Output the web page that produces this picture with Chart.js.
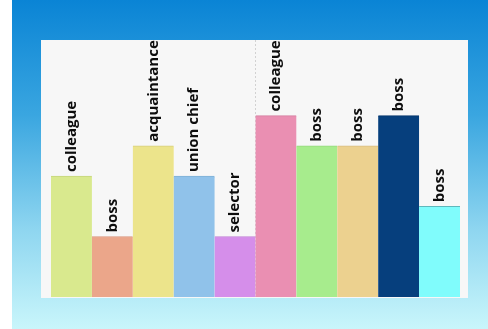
<!DOCTYPE html>
<html>
<head>
<meta charset="utf-8">
<script src="https://cdn.jsdelivr.net/npm/chart.js@4.4.1/dist/chart.umd.min.js"></script>
<style>
  html, body { margin: 0; padding: 0; background: #fff; }
  #bg {
    position: absolute; left: 12px; top: 0; width: 476px; height: 329px;
    background: linear-gradient(to bottom, #0a84d5 0%, #3aa6e0 35%, #8fd6f0 70%, #c9f6fb 100%);
  }
  #panel {
    position: absolute; left: 41px; top: 40px; width: 427px; height: 258px;
    background: #f7f7f7;
  }
</style>
</head>
<body>
<div id="bg"></div>
<div id="panel"><canvas id="barChart" width="427" height="258"></canvas></div>
<script>
const labels = ['colleague', 'boss', 'acquaintance', 'union chief', 'selector',
  'colleague', 'boss', 'boss', 'boss', 'boss'];
const values = [4, 2, 5, 4, 2, 6, 5, 5, 6, 3];
const colors = ['#d9e98e', '#eba68a', '#ece48b', '#90c2ea', '#d58eea',
  '#ea8fb2', '#a7ec8d', '#ecd18f', '#063f7d', '#80fcfc'];
const edges = ['#c5d57c', '#d8937a', '#d6cf7c', '#7fb0d6', '#c07ed5',
  '#d47ea0', '#94d87d', '#d8bd80', '#04346a', '#5fb8bc'];

// etiquetas verticales encima de cada barra
const topLabels = {
  id: 'topLabels',
  afterDatasetsDraw(chart) {
    const c = chart.ctx;
    const bars = chart.getDatasetMeta(0).data;
    c.save();
    c.font = 'bold 15px "Open Sans"';
    c.fillStyle = '#0d0d0d';
    c.textAlign = 'left';
    c.textBaseline = 'middle';
    bars.forEach((bar, i) => {
      c.save();
      c.translate(bar.x, bar.y - 4);
      c.rotate(-Math.PI / 2);
      c.fillText(labels[i], 0, 0);
      c.restore();
    });
    c.restore();
  }
};

new Chart(document.getElementById('barChart'), {
  type: 'bar',
  data: {
    labels: labels,
    datasets: [{
      data: values,
      backgroundColor: colors,
      borderColor: edges,
      borderWidth: { top: 1, left: 0, right: 0, bottom: 0 },
      barPercentage: 1,
      categoryPercentage: 1
    }]
  },
  options: {
    responsive: false,
    animation: false,
    layout: { padding: { left: 10, right: 8, top: 0, bottom: 1 } },
    plugins: { legend: { display: false }, tooltip: { enabled: false } },
    scales: {
      x: {
        display: true,
        ticks: { display: false },
        border: { display: false, dash: [2, 2] },
        grid: {
          drawTicks: false,
          color: (ctx) => ctx.index === 5 ? 'rgba(0,0,0,0.15)' : 'rgba(0,0,0,0)'
        }
      },
      y: { display: false, min: 0, max: 8.5 }
    }
  },
  plugins: [topLabels]
});
</script>
</body>
</html>
